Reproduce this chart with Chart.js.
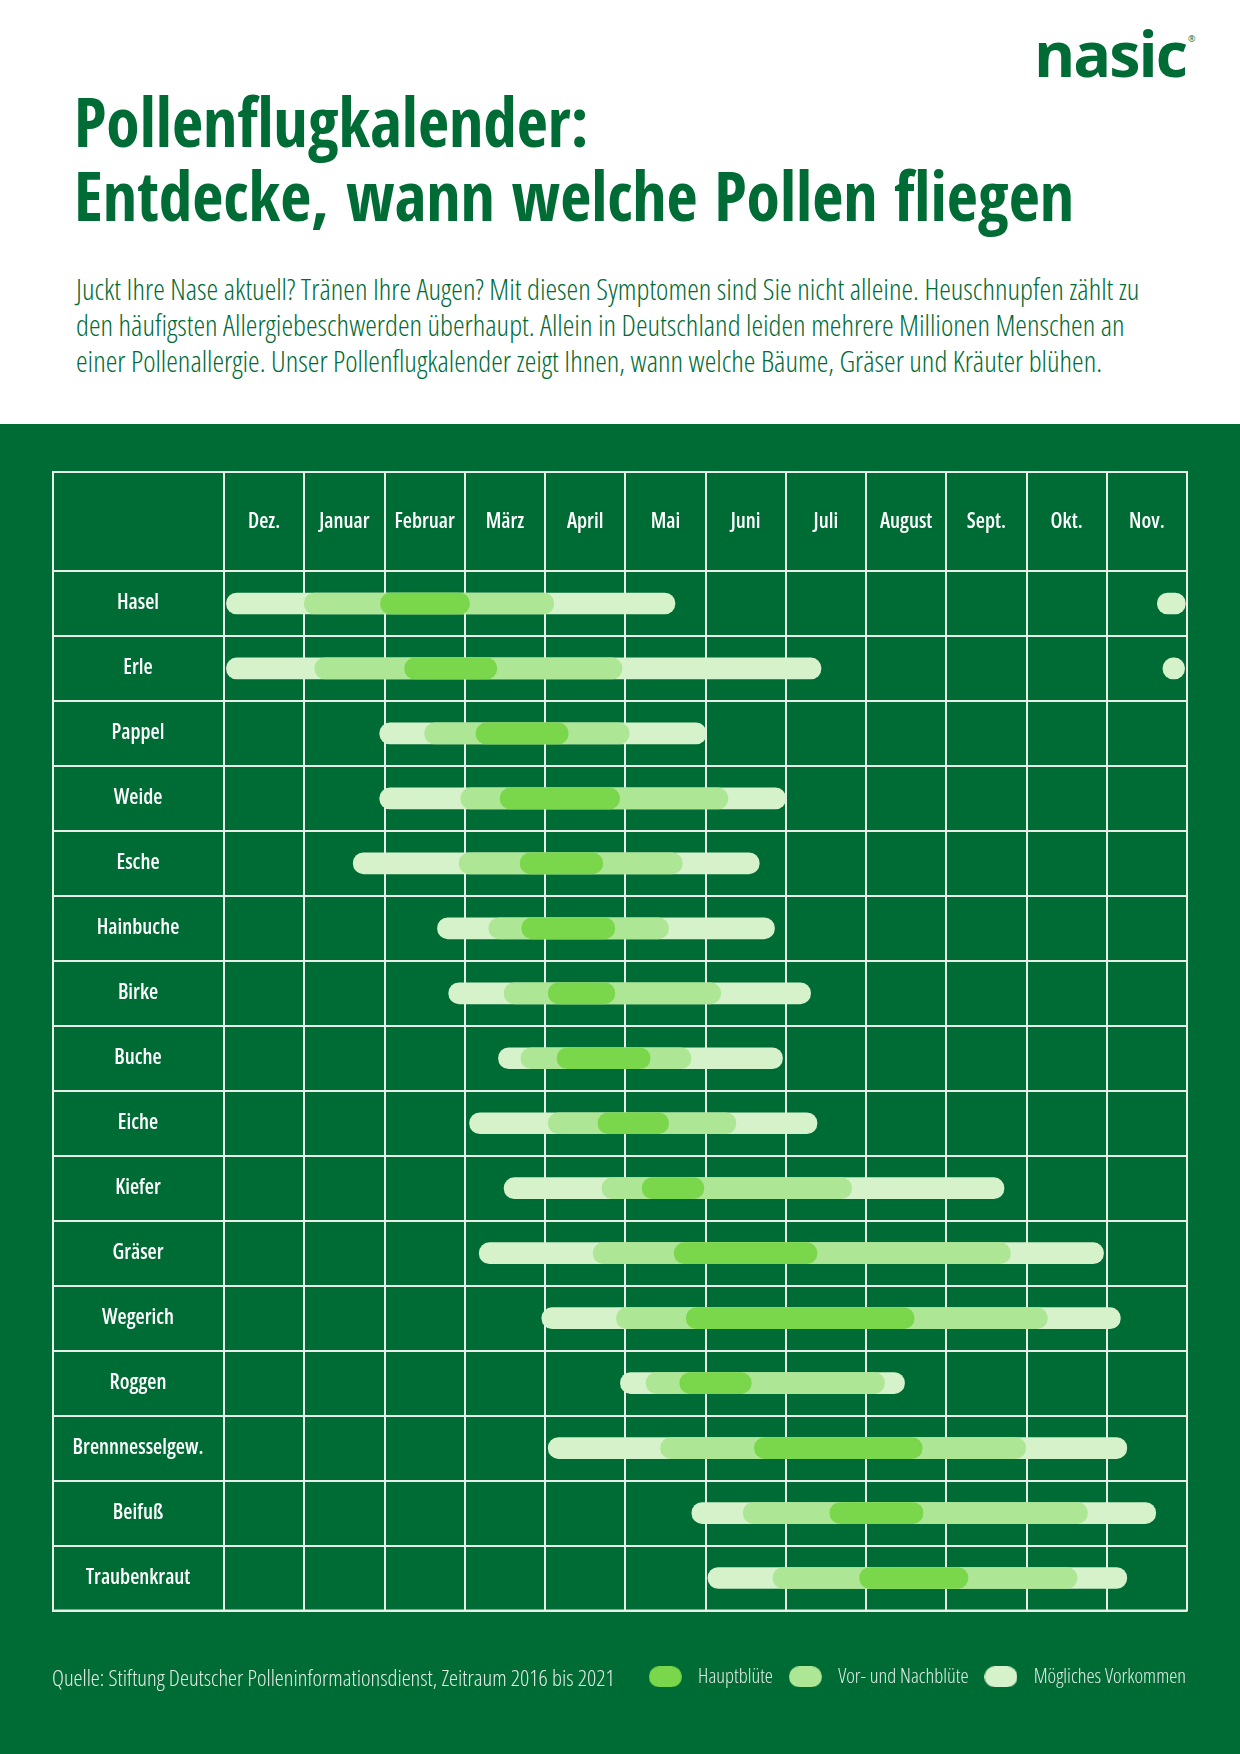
<!DOCTYPE html>
<html lang="de">
<head>
<meta charset="utf-8">
<title>Pollenflugkalender</title>
<script src="https://cdn.jsdelivr.net/npm/chart.js@4.4.1/dist/chart.umd.min.js"></script>
<style>
  html, body { margin: 0; padding: 0; }
  body {
    width: 1240px; height: 1754px; position: relative; overflow: hidden; background: #fff;
    font-family: "Open Sans", sans-serif; color: #006c35;
  }
  .bl { display: inline-block; width: 0; height: 0; }
  .logo { position: absolute; left: 1034px; top: 20px; margin: 0; font-family: "Open Sans", sans-serif; font-weight: 700; font-size: 62px; line-height: 62px; letter-spacing: -2px; white-space: nowrap; }
  .logo sup { position: absolute; left: 100%; top: 12px; margin-left: 2px; font-size: 9px; line-height: 9px; letter-spacing: 0; font-weight: 400; }
  h1 { position: absolute; left: 74px; top: 82px; margin: 0; font-family: "Open Sans Condensed", "Open Sans", sans-serif; font-stretch: condensed; font-weight: 700; font-size: 70px; line-height: 74.3px; white-space: nowrap; }
  .intro { position: absolute; left: 76px; top: 274px; margin: 0; font-stretch: condensed; font-weight: 300; font-size: 24px; line-height: 36px; white-space: nowrap; }
  .panel { position: absolute; left: 0; top: 424px; width: 1240px; height: 1330px; background: #006c35; }
  .source { position: absolute; left: 52px; top: 1247px; margin: 0; font-stretch: condensed; font-weight: 300; font-size: 18px; line-height: 20px; color: #e3ede5; white-space: nowrap; }
  canvas { display: block; }
</style>
</head>
<body>
<div class="logo"><span class="bl"></span><span class="w">nasic</span><sup>®</sup></div>
<h1><span class="bl"></span>Pollenflugkalender:<br><span class="w">Entdecke, wann welche Pollen fliegen</span></h1>
<p class="intro"><span class="bl"></span><span class="w">Juckt Ihre Nase aktuell? Tränen Ihre Augen? Mit diesen Symptomen sind Sie nicht alleine. Heuschnupfen zählt zu</span><br>den häufigsten Allergiebeschwerden überhaupt. Allein in Deutschland leiden mehrere Millionen Menschen an<br>einer Pollenallergie. Unser Pollenflugkalender zeigt Ihnen, wann welche Bäume, Gräser und Kräuter blühen.</p>
<div class="panel">
  <canvas id="kalender" width="1240" height="1330"></canvas>
  <p class="source"><span class="bl"></span><span class="w">Quelle: Stiftung Deutscher Polleninformationsdienst, Zeitraum 2016 bis 2021</span></p>
</div>
<script>
// Monate ab Dezember (0 = Anfang Dez., 12 = Ende Nov.)
const months = ['Dez.', 'Januar', 'Februar', 'März', 'April', 'Mai', 'Juni', 'Juli', 'August', 'Sept.', 'Okt.', 'Nov.'];
const pollen = ['Hasel', 'Erle', 'Pappel', 'Weide', 'Esche', 'Hainbuche', 'Birke', 'Buche', 'Eiche',
  'Kiefer', 'Gräser', 'Wegerich', 'Roggen', 'Brennnesselgew.', 'Beifuß', 'Traubenkraut'];

const hauptbluete = [
  [1.95, 3.06], [2.25, 3.40], [3.14, 4.29], [3.44, 4.93], [3.69, 4.72], [3.71, 4.87], [4.04, 4.87], [4.15, 5.31],
  [4.66, 5.54], [5.21, 5.98], [5.61, 7.39], [5.76, 8.60], [5.68, 6.57], [6.61, 8.70], [7.55, 8.71], [7.92, 9.27]
];
const vorNachbluete = [
  [1.00, 4.11], [1.13, 4.96], [2.50, 5.05], [2.95, 6.28], [2.93, 5.71], [3.30, 5.54], [3.49, 6.19], [3.70, 5.82],
  [4.04, 6.38], [4.71, 7.82], [4.60, 9.80], [4.89, 10.26], [5.26, 8.23], [5.44, 9.99], [6.47, 10.76], [6.84, 10.63]
];
const moeglich = [
  [0.03, 5.62], [0.03, 7.44], [1.94, 6.01], [1.94, 7.00], [1.61, 6.67], [2.66, 6.86], [2.80, 7.31], [3.42, 6.96],
  [3.06, 7.39], [3.49, 9.72], [3.18, 10.96], [3.96, 11.17], [4.94, 8.48], [4.04, 11.25], [5.83, 11.61], [6.03, 11.25]
];
// zweites Stück am Jahresende (Hasel, Erle)
const moeglichNov = [[11.63, 11.98], [11.70, 11.97], null, null, null, null, null, null,
  null, null, null, null, null, null, null, null];

const seriesNames = ['Hauptblüte', 'Vor- und Nachblüte', 'Mögliches Vorkommen'];
const seriesColors = ['#7ad64b', '#ade694', '#d6f2cb'];

const SANS = '"Open Sans", sans-serif';
// "condensed" steht mit im Schriftschnitt, damit Open Sans schmal läuft
const LABEL_WEIGHT = 'condensed 600';
const LABEL_SIZE = 21;
const GRID = '#e8efe9';
const LABEL_COL = 172;
const HEADER = 100;

// Texte oben: Breite und Grundlinie wie in der Vorlage
function fitText(el, width, baseline) {
  const line = el.querySelector('.w');
  const fs = parseFloat(getComputedStyle(el).fontSize);
  el.style.fontSize = (fs * width / line.getBoundingClientRect().width) + 'px';
  const diff = baseline - el.querySelector('.bl').getBoundingClientRect().bottom;
  el.style.top = (parseFloat(getComputedStyle(el).top) + diff) + 'px';
}
fitText(document.querySelector('.logo'), 152, 77);
fitText(document.querySelector('h1'), 1000, 147);
fitText(document.querySelector('.intro'), 1064, 300);
fitText(document.querySelector('.source'), 563, 1686);

// breiteste Zeilenbeschriftung, um sie in der Spalte zu zentrieren
const mctx = document.createElement('canvas').getContext('2d');
mctx.font = LABEL_WEIGHT + ' ' + LABEL_SIZE + 'px ' + SANS;
const widest = Math.max(...pollen.map(p => mctx.measureText(p).width));

function pill(color) {
  const c = document.createElement('canvas');
  c.width = 33; c.height = 21;
  const g = c.getContext('2d');
  const r = c.height / 2;
  g.fillStyle = color;
  g.beginPath();
  g.arc(r, r, r, Math.PI / 2, Math.PI * 1.5);
  g.arc(c.width - r, r, r, Math.PI * 1.5, Math.PI / 2);
  g.closePath();
  g.fill();
  return c;
}

const barStyle = { barThickness: 21, borderRadius: 11, borderSkipped: false, grouped: false };

// äußerer Rahmen der Tabelle (Kopfzeile + Namensspalte)
const tableFrame = {
  id: 'tableFrame',
  afterLayout(chart) {
    // Legende bündig mit dem rechten Tabellenrand
    const pad = chart.options.plugins.legend.labels.padding;
    chart.legend.left += pad - 1;
    chart.legend.right += pad - 1;
  },
  beforeDatasetsDraw(chart) {
    const { ctx, chartArea, scales } = chart;
    const left = scales.y.left;
    const top = scales.xm.top;
    ctx.save();
    ctx.strokeStyle = GRID;
    ctx.lineWidth = 2;
    ctx.strokeRect(left + 1, top + 1, chartArea.right - left - 1, chartArea.bottom - top - 1);
    ctx.restore();
  }
};

const labelFont = { family: SANS, size: LABEL_SIZE, weight: LABEL_WEIGHT };

new Chart(document.getElementById('kalender'), {
  type: 'bar',
  data: {
    labels: pollen,
    datasets: [
      { label: seriesNames[0], data: hauptbluete, backgroundColor: seriesColors[0], ...barStyle },
      { label: seriesNames[1], data: vorNachbluete, backgroundColor: seriesColors[1], ...barStyle },
      { label: seriesNames[2], data: moeglich, backgroundColor: seriesColors[2], ...barStyle },
      { label: seriesNames[2] + ' (Nov.)', data: moeglichNov, backgroundColor: seriesColors[2], ...barStyle }
    ]
  },
  options: {
    indexAxis: 'y',
    responsive: false,
    animation: false,
    layout: { padding: { left: 52, right: 53, top: 47, bottom: 57 } },
    scales: {
      x: {
        type: 'linear', position: 'bottom', min: 0, max: 12,
        ticks: { display: false }, grid: { display: false }, border: { display: false },
        afterFit: s => { s.height = 46; }
      },
      xm: {
        type: 'category', labels: months, position: 'top', offset: true,
        grid: { offset: true, color: GRID, lineWidth: 2, tickLength: HEADER },
        border: { color: GRID, width: 2 },
        ticks: { color: '#ffffff', font: labelFont, padding: 36 - HEADER, maxRotation: 0, autoSkip: false },
        afterFit: s => { s.height = HEADER; }
      },
      y: {
        type: 'category', offset: true,
        grid: { offset: true, color: GRID, lineWidth: 2, tickLength: LABEL_COL },
        border: { color: GRID, width: 2 },
        ticks: {
          color: '#ffffff', font: labelFont, autoSkip: false,
          crossAlign: 'center', padding: LABEL_COL / 2 - LABEL_COL - widest / 2
        },
        afterFit: s => { s.width = LABEL_COL; }
      }
    },
    plugins: {
      tooltip: { enabled: false },
      legend: {
        position: 'bottom',
        align: 'end',
        labels: {
          usePointStyle: true,
          pointStyleWidth: 45,
          padding: 10,
          color: '#e3ede5',
          font: { family: SANS, size: 20.5, weight: 'condensed 300' },
          generateLabels: () => seriesNames.map((text, i) => ({
            text,
            fillStyle: seriesColors[i],
            strokeStyle: seriesColors[i],
            lineWidth: 0,
            pointStyle: pill(seriesColors[i]),
            datasetIndex: i,
            hidden: false,
            fontColor: '#e3ede5'
          }))
        }
      }
    }
  },
  plugins: [tableFrame]
});
</script>
</body>
</html>
